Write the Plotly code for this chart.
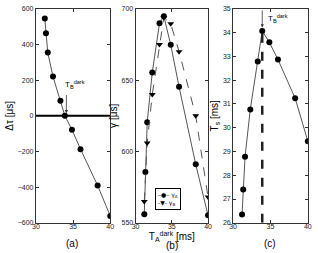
import plotly.graph_objects as go

# ---- data ----
t_dark = [31.2, 31.35, 31.6, 32.3, 33.3, 33.9, 34.85, 36.0, 38.3, 40.0]
delta_tau = [546, 463, 355, 220, 85, 0, -78, -187, -391, -562]
gamma_a = [556, 585.6, 620.5, 655.4, 689.9, 694.8, 674.8, 645.3, 591, 555.2]
t_dark_b = [31.2, 31.6, 32.3, 33.3, 33.9, 34.85, 36.0, 38.3, 40.0]
gamma_b = [565, 606, 640, 675, 694, 689.5, 670, 625, 568]
ts = [26.35, 27.4, 28.78, 30.77, 32.79, 34.07, 33.59, 32.87, 31.24, 29.43]
tb_dark = 33.9
x_ticks = [30, 35, 40]
a_ticks = [-600, -400, -200, 0, 200, 400, 600]
b_ticks = [550, 600, 650, 700]
c_ticks = [26, 27, 28, 29, 30, 31, 32, 33, 34, 35]

W, H = 318, 253
FONT = "Liberation Sans, Arial, sans-serif"
LINE = "#555555"

fig = go.Figure()

mk = dict(color="black", size=6)
fig.add_trace(go.Scatter(x=t_dark, y=delta_tau, mode="lines+markers",
                         line=dict(color=LINE, width=1), marker=dict(symbol="circle", **mk),
                         showlegend=False, xaxis="x", yaxis="y"))
fig.add_trace(go.Scatter(x=t_dark, y=gamma_a, mode="lines+markers", name="γ<sub>A</sub>",
                         line=dict(color=LINE, width=1), marker=dict(symbol="circle", **mk),
                         showlegend=False, xaxis="x2", yaxis="y2"))
fig.add_trace(go.Scatter(x=t_dark_b, y=gamma_b, mode="lines+markers", name="γ<sub>B</sub>",
                         line=dict(color=LINE, width=1, dash="dash"),
                         marker=dict(symbol="triangle-down", **mk),
                         showlegend=False, xaxis="x2", yaxis="y2"))
fig.add_trace(go.Scatter(x=t_dark, y=ts, mode="lines+markers",
                         line=dict(color=LINE, width=1), marker=dict(symbol="circle", **mk),
                         showlegend=False, xaxis="x3", yaxis="y3"))

ydom = [1 - 225 / H, 1 - 5 / H]
doms = [[32.7 / W, 109 / W], [135 / W, 209.3 / W], [235 / W, 311.7 / W]]

axcommon = dict(showline=True, linecolor="#333", linewidth=1, mirror="allticks",
                ticks="inside", ticklen=3, tickcolor="#333", showgrid=False,
                zeroline=False, tickfont=dict(size=7, family=FONT, color="#222"))

for i, (dom, yr, yt, ytitle) in enumerate([
        (doms[0], [-600, 600], a_ticks, "Δτ [μs]"),
        (doms[1], [550, 700], b_ticks, "γ [μs]"),
        (doms[2], [26, 35], c_ticks, "T<sub>s</sub> [ms]")]):
    sx = "" if i == 0 else str(i + 1)
    xa = dict(domain=dom, range=[30, 40], tickvals=x_ticks, anchor="y" + sx,
              ticklabelstandoff=-3, **axcommon)
    if i == 1:
        xa["title"] = dict(text="T<sub>A</sub><sup>dark</sup> [ms]",
                           font=dict(size=10, family=FONT, color="black"), standoff=0)
    ya = dict(domain=ydom, range=yr, tickvals=yt, anchor="x" + sx,
              title=dict(text=ytitle, font=dict(size=10, family=FONT, color="black"), standoff=2),
              **axcommon)
    fig.layout["xaxis" + sx] = xa
    fig.layout["yaxis" + sx] = ya

# zero line in panel (a)
fig.add_shape(type="line", xref="x", yref="y", x0=30, x1=40, y0=0, y1=0,
              line=dict(color="black", width=2))
# dashed vertical line in panel (c)
fig.add_shape(type="line", xref="x3", yref="y3", x0=tb_dark, x1=tb_dark, y0=26, y1=34.0,
              line=dict(color="#222", width=2.5, dash="dash"))

ann_font = dict(size=8, family=FONT, color="black")
# arrows
fig.add_annotation(xref="x", yref="y", x=34.1, y=15, ax=34.1, ay=125, axref="x", ayref="y",
                   showarrow=True, arrowhead=2, arrowsize=0.8, arrowwidth=0.8, arrowcolor="#333",
                   text="")
fig.add_annotation(xref="x", yref="y", x=33.65, y=175, xanchor="left",
                   text="T<sub>B</sub><sup>dark</sup>", showarrow=False, font=ann_font)
fig.add_annotation(xref="x3", yref="y3", x=tb_dark, y=34.22, ax=tb_dark, ay=35, axref="x3", ayref="y3",
                   showarrow=True, arrowhead=2, arrowsize=0.8, arrowwidth=0.8, arrowcolor="#333",
                   text="")
fig.add_annotation(xref="x3", yref="y3", x=34.45, y=34.6, xanchor="left",
                   text="T<sub>B</sub><sup>dark</sup>", showarrow=False, font=ann_font)

# compact legend box for panel (b)
fig.add_annotation(xref="paper", yref="paper", x=155 / W, y=1 - 189 / H,
                   xanchor="left", yanchor="top", align="left", showarrow=False,
                   text="–●– γ<sub>A</sub><br>-▼- γ<sub>B</sub>",
                   font=dict(size=6, family="DejaVu Sans", color="black"),
                   bordercolor="black", borderwidth=1, borderpad=2, bgcolor="white")

for lab, xc, yc in [("(a)", 70, 246), ("(b)", 172, 248), ("(c)", 273, 246)]:
    fig.add_annotation(xref="paper", yref="paper", x=xc / W, y=1 - yc / H, text=lab,
                       xanchor="center", yanchor="middle",
                       showarrow=False, font=dict(size=10, family=FONT, color="black"))

fig.update_layout(
    width=W, height=H, margin=dict(l=0, r=0, t=0, b=0),
    plot_bgcolor="white", paper_bgcolor="white",
    showlegend=False,
)

fig.write_html("out.html", config={"displayModeBar": False},
               post_script="document.body.style.margin='0';")
